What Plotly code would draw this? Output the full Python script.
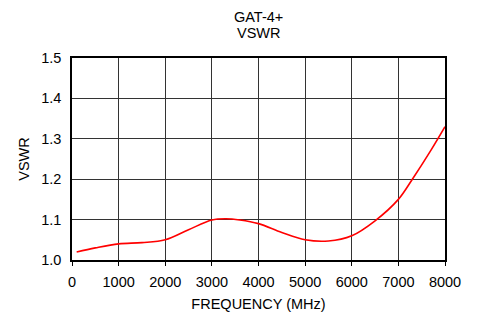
import plotly.graph_objects as go

freq_mhz = [100, 500, 1000, 1500, 2000, 2500, 3000, 3300, 3600, 4000, 4500, 5000, 5500, 6000, 6500, 7000, 7300, 7700, 8000]
vswr = [1.020, 1.030, 1.040, 1.043, 1.050, 1.075, 1.099, 1.102, 1.099, 1.090, 1.068, 1.050, 1.047, 1.060, 1.097, 1.150, 1.200, 1.272, 1.330]

x_ticks = [0, 1000, 2000, 3000, 4000, 5000, 6000, 7000, 8000]
y_ticks = [1.0, 1.1, 1.2, 1.3, 1.4, 1.5]

FS = 14.5
W, H = 471, 304
L, R, T, B = 64, 34, 50, 52
plot_h = H - T - B

fig = go.Figure()
fig.add_trace(go.Scatter(x=freq_mhz, y=vswr, mode="lines",
                         line=dict(color="#ff0000", width=1.6, shape="spline", smoothing=1.0),
                         showlegend=False, hoverinfo="skip"))

fig.update_layout(
    width=W, height=H,
    margin=dict(l=L, r=R, t=T, b=B, autoexpand=False),
    paper_bgcolor="white", plot_bgcolor="white",
    font=dict(family="Liberation Sans, Arial, sans-serif", size=FS, color="black"),
)
fig.add_annotation(text="GAT-4+", xref="paper", yref="paper", x=0.5, y=1 + 41 / plot_h,
                   xanchor="center", yanchor="middle", showarrow=False, font=dict(size=FS))
fig.add_annotation(text="VSWR", xref="paper", yref="paper", x=0.5, y=1 + 25 / plot_h,
                   xanchor="center", yanchor="middle", showarrow=False, font=dict(size=FS))

fig.update_xaxes(range=[0, 8000], tickvals=x_ticks, ticktext=[str(v) for v in x_ticks],
                 showgrid=True, gridcolor="#333", gridwidth=1,
                 showline=True, linecolor="black", linewidth=1.5, mirror=True,
                 ticks="outside", ticklen=4, tickcolor="black", ticklabelstandoff=4,
                 tickfont=dict(size=FS), automargin=False,
                 title=dict(text="FREQUENCY (MHz)", standoff=10, font=dict(size=FS)), zeroline=False)
fig.update_yaxes(range=[1.0, 1.5], tickvals=y_ticks, ticktext=[f"{v:.1f}" for v in y_ticks],
                 showgrid=True, gridcolor="#333", gridwidth=1,
                 showline=True, linecolor="black", linewidth=1.5, mirror=True,
                 ticks="", ticklabelstandoff=6, tickfont=dict(size=FS), automargin=False,
                 title=dict(text="VSWR", standoff=8, font=dict(size=FS)), zeroline=False)

fig.write_html("out.html")
